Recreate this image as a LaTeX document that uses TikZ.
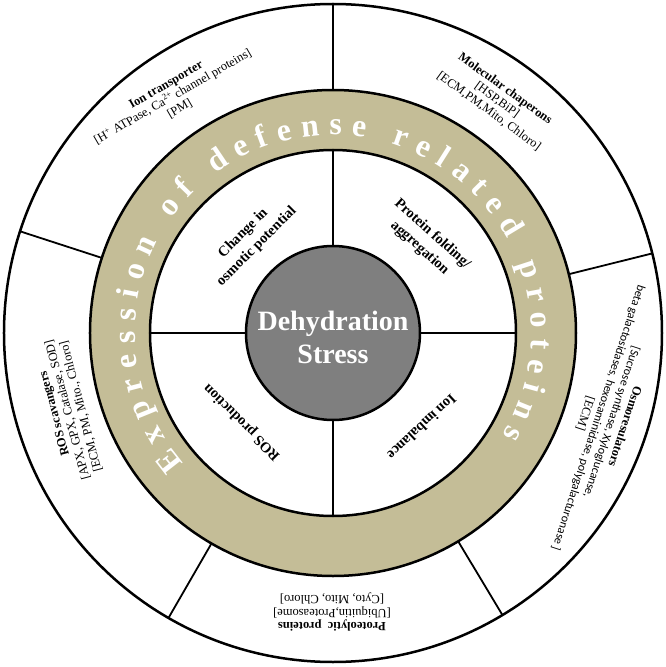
\documentclass[tikz,border=0pt]{standalone}
\usepackage{fontspec}
\setmainfont{Liberation Serif}
\newfontfamily\carl{Carlito}
\usetikzlibrary{decorations.text}
\definecolor{ringtan}{HTML}{C4BD97}
\definecolor{coregray}{HTML}{7F7F7F}
\begin{document}
\begin{tikzpicture}[x=1pt,y=1pt,
  lbl/.style={align=center, font=\fontsize{12.5}{13.8}\selectfont, inner sep=0pt},
  qlbl/.style={align=center, font=\bfseries\fontsize{14.5}{19}\selectfont, inner sep=0pt},
  ringline/.style={line width=2.5pt},
  divider/.style={line width=1.8pt}]
\useasboundingbox (-333,-334) rectangle (333,333);
% outer disc
\draw[ringline, fill=white] (0,0) circle[radius=329];
\foreach \a in {14,90,162,240,301} \draw[divider] (\a:243) -- (\a:329);
% tan ring
\fill[ringtan, even odd rule] (0,0) circle[radius=243] (0,0) circle[radius=183];
\draw[ringline] (0,0) circle[radius=243];
\draw[ringline] (0,0) circle[radius=183];
\foreach \a in {0,90,180,270} \draw[divider] (\a:87) -- (\a:183);
% core
\node[circle, draw, line width=2.5pt, fill=coregray, minimum size=174pt, inner sep=0pt] (core) at (0,0) {};
\node[align=center, text=white, font=\bfseries\fontsize{28}{33}\selectfont] (coretext) at (0,-4) {Dehydration\\Stress};
% ring text
\path[decorate, decoration={text along path, text color=white,
  text={|\bfseries\fontsize{32}{32}\selectfont|Expression of defense related proteins},
  text align=fit to path}]
  (221:198) arc[start angle=221, end angle=-31, radius=198];
% quadrant labels
\node[qlbl, rotate=45] (osmpot) at (-83,93) {Change in\\osmotic potential};
\node[qlbl, rotate=-42] (fold) at (93,92) {Protein folding/\\aggregation};
\node[qlbl, rotate=135] (rosp) at (-91,-89) {ROS production};
\node[qlbl, rotate=-137] (ionimb) at (89,-94) {Ion imbalance};
% outer labels
\node[lbl, rotate=30] (iont) at (-160,236) {\textbf{Ion transporter}\\{}[H\textsuperscript{+} ATPase, Ca\textsuperscript{2+} channel proteins]\\{}[PM]};
\node[lbl, rotate=-36] (molc) at (164,233) {\textbf{Molecular chaperons}\\{}[HSP,BiP]\\{}[ECM,PM,Mito, Chloro]};
\node[lbl, rotate=-108] (osmo) at (272,-87) {\textbf{Osmoresulators}\\{\carl\fontsize{12}{13.8}\selectfont [Sucrose synthase, Xyloglucanse,}\\{\carl\fontsize{12}{13.8}\selectfont beta galactosidases, hexosaminidase, polygalacturonase ]}\\{}[ECM]};
\node[lbl, rotate=105] (ros) at (-265,-77) {\textbf{ROS scavangers}\\{}[APX, GPX, Catalase, SOD]\\{}[ECM, PM, Mito., Chloro]};
\node[lbl, rotate=180] (prot) at (-1,-279) {\textbf{Proteolytic\ \ proteins}\\{}[Ubiquitin,Proteasome]\\{}[Cyto, Mito, Chloro]};
\end{tikzpicture}
\end{document}
